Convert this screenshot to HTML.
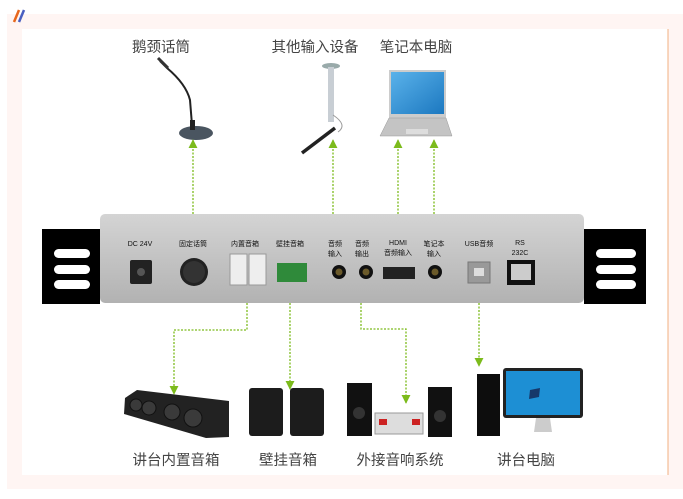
<!DOCTYPE html>
<html><head><meta charset="utf-8"><style>
body{margin:0;width:683px;height:494px;overflow:hidden;background:#fff;font-family:"Liberation Sans","Noto Sans CJK SC",sans-serif}
</style></head><body>
<svg width="683" height="494" viewBox="0 0 683 494" xmlns="http://www.w3.org/2000/svg" font-family="Liberation Sans, Noto Sans CJK SC, sans-serif">
<defs>
<linearGradient id="pg" x1="0" y1="0" x2="0" y2="1"><stop offset="0" stop-color="#d4d4d4"/><stop offset="1" stop-color="#b2b2b2"/></linearGradient>
<linearGradient id="sc" x1="0" y1="0" x2="1" y2="1"><stop offset="0" stop-color="#5ab2ea"/><stop offset="1" stop-color="#1c78c0"/></linearGradient>
<marker id="ah" viewBox="0 0 10 10" refX="9" refY="5" markerWidth="7" markerHeight="7" orient="auto"><path d="M0,0 L10,5 L0,10 z" fill="#7cbb1c"/></marker>
</defs>
<rect x="0" y="0" width="683" height="494" fill="#fff"/>
<rect x="7" y="14" width="676" height="475" fill="#fff5f3"/>
<rect x="22" y="29" width="646" height="446" fill="#fff"/>
<line x1="668" y1="29" x2="668" y2="475" stroke="#f0b080" stroke-width="1"/>
<path d="M14 22 L19 10" stroke="#e8671c" stroke-width="2.5"/>
<path d="M19 22 L24 10" stroke="#4a5fc0" stroke-width="2.5"/>

<g font-size="14.5" fill="#444" text-anchor="middle">
<text x="161" y="52">鹅颈话筒</text>
<text x="315" y="52">其他输入设备</text>
<text x="416" y="52">笔记本电脑</text>
<text x="176" y="465">讲台内置音箱</text>
<text x="288" y="465">壁挂音箱</text>
<text x="400" y="465">外接音响系统</text>
<text x="526" y="465">讲台电脑</text>
</g>

<!-- mic -->
<path d="M160 61 L167 68 Q186 84 190 100 L192 125" stroke="#222" stroke-width="2" fill="none"/>
<path d="M158 58 L168 68" stroke="#333" stroke-width="3"/>
<ellipse cx="196" cy="133" rx="17" ry="7" fill="#4a5560"/>
<rect x="190" y="120" width="5" height="10" fill="#222"/>
<!-- other input -->
<ellipse cx="331" cy="66" rx="9" ry="3" fill="#9aa"/>
<rect x="328" y="67" width="6" height="55" fill="#c8ced4"/>
<path d="M302 153 L335 128" stroke="#222" stroke-width="3.5"/>
<path d="M333 115 Q348 125 338 132" stroke="#999" fill="none"/>
<!-- laptop -->
<path d="M389 70 L446 70 L446 118 L389 118 z" fill="#ccc"/>
<rect x="391" y="72" width="53" height="42" fill="url(#sc)"/>
<path d="M389 118 L446 118 L452 136 L380 136 z" fill="#c4c4c4" stroke="#999" stroke-width="0.5"/>
<rect x="406" y="129" width="22" height="5" fill="#ddd"/>

<!-- brackets -->
<rect x="42" y="229" width="58" height="75" fill="#000"/>
<rect x="584" y="229" width="62" height="75" fill="#000"/>
<g fill="#fff">
<rect x="54" y="249" width="36" height="9" rx="4.5"/><rect x="54" y="265" width="36" height="9" rx="4.5"/><rect x="54" y="280" width="36" height="9" rx="4.5"/>
<rect x="596" y="249" width="40" height="9" rx="4.5"/><rect x="596" y="265" width="40" height="9" rx="4.5"/><rect x="596" y="280" width="40" height="9" rx="4.5"/>
</g>
<!-- panel -->
<rect x="100" y="214" width="484" height="89" rx="5" fill="url(#pg)"/>
<g font-size="7" fill="#111" text-anchor="middle">
<text x="140" y="246">DC 24V</text>
<text x="193" y="246">固定话筒</text>
<text x="245" y="246">内置音箱</text>
<text x="290" y="246">壁挂音箱</text>
<text x="335" y="246">音频</text><text x="335" y="256">输入</text>
<text x="362" y="246">音频</text><text x="362" y="256">输出</text>
<text x="398" y="245">HDMI</text><text x="398" y="255">音频输入</text>
<text x="434" y="246">笔记本</text><text x="434" y="256">输入</text>
<text x="479" y="246">USB音频</text>
<text x="520" y="245">RS</text><text x="520" y="255">232C</text>
</g>
<rect x="130" y="260" width="22" height="24" rx="2" fill="#222"/><circle cx="141" cy="272" r="4" fill="#555"/>
<circle cx="194" cy="272" r="14" fill="#222"/><circle cx="194" cy="272" r="11" fill="#333"/>
<rect x="230" y="254" width="17" height="31" fill="#eee" stroke="#999"/><rect x="249" y="254" width="17" height="31" fill="#eee" stroke="#999"/>
<rect x="277" y="263" width="30" height="19" fill="#2f8a3a"/>
<circle cx="339" cy="272" r="7" fill="#111"/><circle cx="339" cy="272" r="3.5" fill="#6b5a2a"/>
<circle cx="366" cy="272" r="7" fill="#111"/><circle cx="366" cy="272" r="3.5" fill="#6b5a2a"/>
<rect x="383" y="267" width="32" height="12" fill="#222"/>
<circle cx="435" cy="272" r="7" fill="#111"/><circle cx="435" cy="272" r="3.5" fill="#6b5a2a"/>
<rect x="468" y="262" width="22" height="21" fill="#999" stroke="#777"/><rect x="474" y="268" width="10" height="8" fill="#ddd"/>
<rect x="507" y="260" width="28" height="25" fill="#111"/><rect x="511" y="264" width="20" height="16" fill="#ccc"/>

<!-- connectors -->
<g stroke="#7cbb1c" stroke-width="1.3" stroke-dasharray="2,1.5" fill="none">
<path d="M193 214 L193 140" marker-end="url(#ah)"/>
<path d="M333 214 L333 140" marker-end="url(#ah)"/>
<path d="M398 214 L398 140" marker-end="url(#ah)"/>
<path d="M434 214 L434 140" marker-end="url(#ah)"/>
<path d="M247 303 L247 330 L174 330 L174 394" marker-end="url(#ah)"/>
<path d="M290 303 L290 389" marker-end="url(#ah)"/>
<path d="M361 303 L361 329 L406 329 L406 403" marker-end="url(#ah)"/>
<path d="M479 303 L479 366" marker-end="url(#ah)"/>
</g>

<!-- soundbar -->
<path d="M125 398 L137 390 L229 401 L229 437 L206 438 L124 414 z" fill="#222"/>
<g fill="#3a3a3a" stroke="#111"><circle cx="136" cy="405" r="6"/><circle cx="149" cy="408" r="7"/><circle cx="172" cy="412" r="8"/><circle cx="193" cy="418" r="9"/></g>
<!-- wall speakers -->
<rect x="249" y="388" width="34" height="48" rx="3" fill="#1c1c1c"/>
<rect x="290" y="388" width="34" height="48" rx="3" fill="#1c1c1c"/>
<!-- hifi -->
<rect x="347" y="383" width="25" height="53" fill="#111"/><circle cx="359" cy="413" r="6" fill="#333"/>
<rect x="428" y="387" width="24" height="50" fill="#111"/><circle cx="440" cy="416" r="6" fill="#333"/>
<rect x="375" y="413" width="48" height="21" fill="#ddd" stroke="#999"/><rect x="379" y="419" width="8" height="6" fill="#c22"/><rect x="412" y="419" width="8" height="6" fill="#c22"/>
<!-- pc -->
<rect x="477" y="374" width="23" height="62" fill="#0d0d0d"/>
<rect x="503" y="368" width="80" height="50" rx="3" fill="#222"/>
<rect x="506" y="371" width="74" height="44" fill="#1d8fd4"/>
<path d="M536 418 L550 418 L552 432 L534 432 z" fill="#ccc"/>
<path d="M530 390 L540 388 L539 397 L529 399 z" fill="#16386a"/>
</svg>
</body></html>
